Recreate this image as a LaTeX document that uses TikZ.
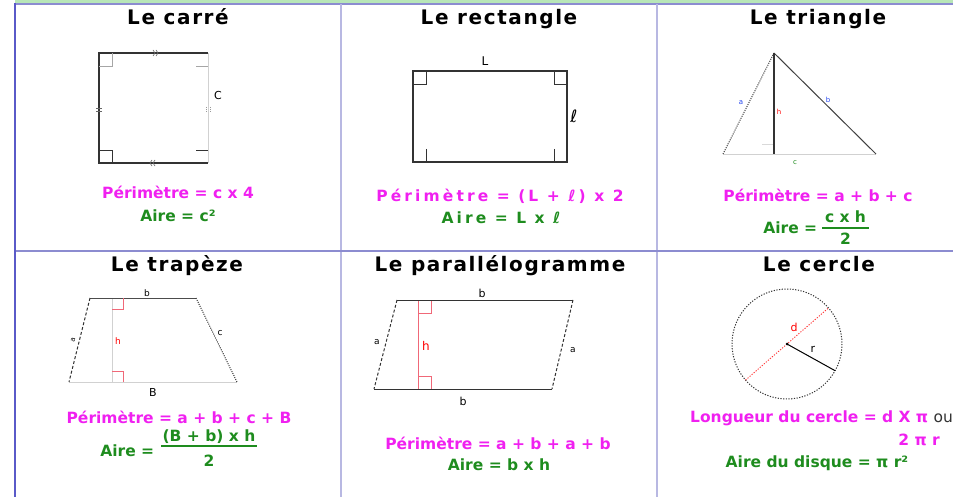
\documentclass[tikz,border=0pt]{standalone}
\usepackage{fontspec}
\setmainfont{DejaVu Sans}
\newfontfamily\ttlfont[LetterSpace=8]{DejaVu Sans}
\newfontfamily\widefont[LetterSpace=20]{DejaVu Sans}
\definecolor{mag}{HTML}{F020F0}
\definecolor{grn}{HTML}{1E8C1E}
\definecolor{gridA}{HTML}{5A5AC8}
\definecolor{gridB}{HTML}{B8B8E2}
\definecolor{gridC}{HTML}{8C8CD0}
\definecolor{topg}{HTML}{B8E6B8}
\definecolor{lblue}{HTML}{2244EE}
\definecolor{hred}{HTML}{F06878}
\definecolor{dk}{HTML}{333333}
\tikzset{
  ttl/.style={font=\ttlfont\bfseries\fontsize{20}{22}\selectfont, anchor=base, inner sep=0pt},
  frm/.style={font=\bfseries\fontsize{15.5}{17}\selectfont, anchor=base, inner sep=0pt},
  wfrm/.style={font=\widefont\bfseries\fontsize{15.5}{17}\selectfont, anchor=base, inner sep=0pt},
  tinylab/.style={font=\fontsize{7}{8}\selectfont, inner sep=0pt},
  lab/.style={font=\fontsize{11}{12}\selectfont, inner sep=0pt},
  darkline/.style={draw=dk, line width=1.1pt},
  liteline/.style={draw=black!18, line width=0.8pt},
  dotline/.style={draw=dk, line width=1pt, dash pattern=on 1pt off 1.2pt},
  dashline/.style={draw=dk, line width=1pt, dash pattern=on 3pt off 2pt},
  redline/.style={draw=hred, line width=0.9pt},
  fbar/.style={draw=grn, line width=1.6pt},
}
\begin{document}
\begin{tikzpicture}[x=1pt,y=-1pt]
\useasboundingbox (0,0) rectangle (964,497);
% grid
\fill[topg] (15,0) rectangle (953,3);
\draw[gridC, line width=1.5pt] (15,4) -- (953,4);
\draw[gridB, line width=2pt] (341,4) -- (341,497);
\draw[gridB, line width=2pt] (657,4) -- (657,497);
\draw[gridC, line width=1.5pt] (15,251) -- (953,251);
\draw[gridA, line width=2pt] (15,3) -- (15,497);

% ---------- Le carré ----------
\node[ttl] (t1) at (178,25) {Le carré};
\coordinate (s1) at (99,53);
\coordinate (s2) at (208,53);
\coordinate (s3) at (208,163);
\coordinate (s4) at (99,163);
\draw[liteline] (s2) -- (s3);
\draw[darkline] (s2) -- (s1) -- (s4) -- (s3);
\draw[draw=black!35, line width=0.8pt] (99,66) -| (112,53);
\draw[darkline, line width=0.8pt] (99,150) -| (112,163);
\draw[draw=black!35, line width=0.8pt] (196,66) -- (208,66);
\draw[darkline, line width=0.8pt] (196,150) -- (208,150);
\draw[draw=black!60, line width=0.6pt] (153,50) -- (155,53) -- (153,56) (156,50) -- (158,53) -- (156,56);
\draw[draw=black!60, line width=0.6pt] (152,160) -- (150,163) -- (152,166) (155,160) -- (153,163) -- (155,166);
\draw[draw=black!60, line width=0.6pt] (96,108) -- (102,108) (96,111) -- (102,111);
\draw[draw=black!40, line width=0.8pt, dash pattern=on 1pt off 1pt] (206,107) -- (206,113) (210,107) -- (210,113);
\node[lab] (lc) at (218,95) {C};
\node[frm, mag] (p1) at (178,199) {Périmètre = c x 4};
\node[frm, grn] (a1) at (178,222) {Aire = c²};

% ---------- Le rectangle ----------
\node[ttl] (t2) at (499,25) {Le rectangle};
\coordinate (r1) at (413,71);
\coordinate (r2) at (567,71);
\coordinate (r3) at (567,162);
\coordinate (r4) at (413,162);
\draw[darkline] (r1) -- (r2) -- (r3) -- (r4) -- cycle;
\draw[darkline, line width=0.8pt] (413,84) -| (426,71);
\draw[darkline, line width=0.8pt] (554,71) |- (567,84);
\draw[darkline, line width=0.8pt] (426,149) -- (426,162);
\draw[darkline, line width=0.8pt] (554,149) -- (554,162);
\node[lab, font=\fontsize{12}{14}\selectfont] (lL) at (485,61) {L};
\node[lab, font=\itshape\fontsize{17}{18}\selectfont] (ll) at (574,116) {ℓ};
\node[wfrm, mag] (p2) at (500,202) {Périmètre = (L + ℓ) x 2};
\node[wfrm, grn] (a2) at (501,224) {Aire = L x ℓ};

% ---------- Le triangle ----------
\node[ttl] (t3) at (818,25) {Le triangle};
\coordinate (ta) at (774,53);
\coordinate (tb) at (723,154);
\coordinate (tc) at (876,154);
\coordinate (th) at (774,154);
\draw[liteline] (tb) -- (tc);
\draw[draw=black!15, line width=0.8pt] (762,144) -- (774,144);
\draw[dotline] (ta) -- (tb);
\draw[draw=black!75, line width=1pt] (ta) -- (tc);
\draw[darkline] (ta) -- (th);
\node[tinylab, lblue] (la3) at (741,103) {a};
\node[tinylab, red] (lh3) at (779,112) {h};
\node[tinylab, lblue] (lb3) at (828,100) {b};
\node[tinylab, grn] (lc3) at (795,163) {c};
\node[frm, mag] (p3) at (818,202) {Périmètre = a + b + c};
\node[frm, grn, anchor=base east] (a3) at (820,234) {Aire =\,};
\node[frm, grn] (n3) at (845.5,223) {c x h};
\node[frm, grn] (d3) at (845.5,244) {2};
\coordinate (b3a) at (822,228);
\coordinate (b3b) at (869,228);
\draw[fbar] (b3a) -- (b3b);

% ---------- Le trapèze ----------
\node[ttl] (t4) at (177,272) {Le trapèze};
\coordinate (z1) at (90,298);
\coordinate (z2) at (196,298);
\coordinate (z3) at (237,382);
\coordinate (z4) at (69,382);
\coordinate (zh1) at (112,298);
\coordinate (zh2) at (112,382);
\draw[liteline] (z4) -- (z3);
\draw[liteline] (zh1) -- (zh2);
\draw[draw=black!70, line width=1pt] (z1) -- (z2);
\draw[dashline] (z1) -- (z4);
\draw[dotline] (z2) -- (z3);
\draw[redline] (112,309) -| (123,298);
\draw[redline] (112,371) -| (123,382);
\node[tinylab, font=\fontsize{9}{10}\selectfont] (lb4) at (147,293) {b};
\node[tinylab, rotate=75] (la4) at (73,340) {a};
\node[tinylab, font=\fontsize{9}{10}\selectfont] (lc4) at (220,333) {c};
\node[tinylab, red, font=\fontsize{9}{10}\selectfont] (lh4) at (118,341) {h};
\node[lab] (lB4) at (153,392) {B};
\node[frm, mag] (p4) at (179,423) {Périmètre = a + b + c + B};
\node[frm, grn, anchor=base east] (a4) at (157,456) {Aire =\,};
\node[frm, grn] (n4) at (209,441) {(B + b) x h};
\node[frm, grn] (d4) at (209,466) {2};
\coordinate (b4a) at (161,446);
\coordinate (b4b) at (257,446);
\draw[fbar] (b4a) -- (b4b);

% ---------- Le parallélogramme ----------
\node[ttl] (t5) at (500,271) {Le parallélogramme};
\coordinate (g1) at (397,300);
\coordinate (g2) at (573,300);
\coordinate (g3) at (552,389);
\coordinate (g4) at (374,389);
\coordinate (gh1) at (418,300);
\coordinate (gh2) at (418,389);
\draw[redline] (gh1) -- (gh2);
\draw[redline] (418,313) -| (431,300);
\draw[redline] (418,376) -| (431,389);
\draw[darkline, line width=1pt] (g1) -- (g2);
\draw[darkline, line width=1pt] (g4) -- (g3);
\draw[dashline] (g1) -- (g4);
\draw[dashline] (g2) -- (g3);
\node[lab] (lb5a) at (482,293) {b};
\node[lab] (lb5b) at (463,401) {b};
\node[lab, font=\fontsize{9}{10}\selectfont] (la5a) at (377,342) {a};
\node[lab, font=\fontsize{9}{10}\selectfont] (la5b) at (573,350) {a};
\node[lab, red, font=\fontsize{12}{14}\selectfont] (lh5) at (426,346) {h};
\node[frm, mag] (p5) at (498,449) {Périmètre = a + b + a + b};
\node[frm, grn] (a5) at (499,470) {Aire = b x h};

% ---------- Le cercle ----------
\node[ttl] (t6) at (819,271) {Le cercle};
\coordinate (o) at (787,344);
\coordinate (d1) at (828.5,307.9);
\coordinate (d2) at (745.5,380.1);
\coordinate (rr) at (835.1,370.7);
\draw[draw=dk, line width=1pt, dash pattern=on 1.2pt off 1.5pt] (o) circle[radius=55];
\draw[draw=red!80, line width=0.9pt, dash pattern=on 1.2pt off 1.5pt] (d2) -- (d1);
\draw[draw=black, line width=1pt] (o) -- (rr);
\fill[black] (o) circle[radius=1.5];
\node[lab, red] (ld6) at (794,327) {d};
\node[lab] (lr6) at (813,349) {r};
\node[frm, mag, anchor=base west] (p6) at (690,422) {Longueur du cercle = d X π \textcolor{black!80}{\mdseries ou}};
\node[frm, mag, anchor=base east] (p6b) at (940,445) {2 π r};
\node[frm, grn] (a6) at (817,467) {Aire du disque = π r²};
\end{tikzpicture}
\end{document}
